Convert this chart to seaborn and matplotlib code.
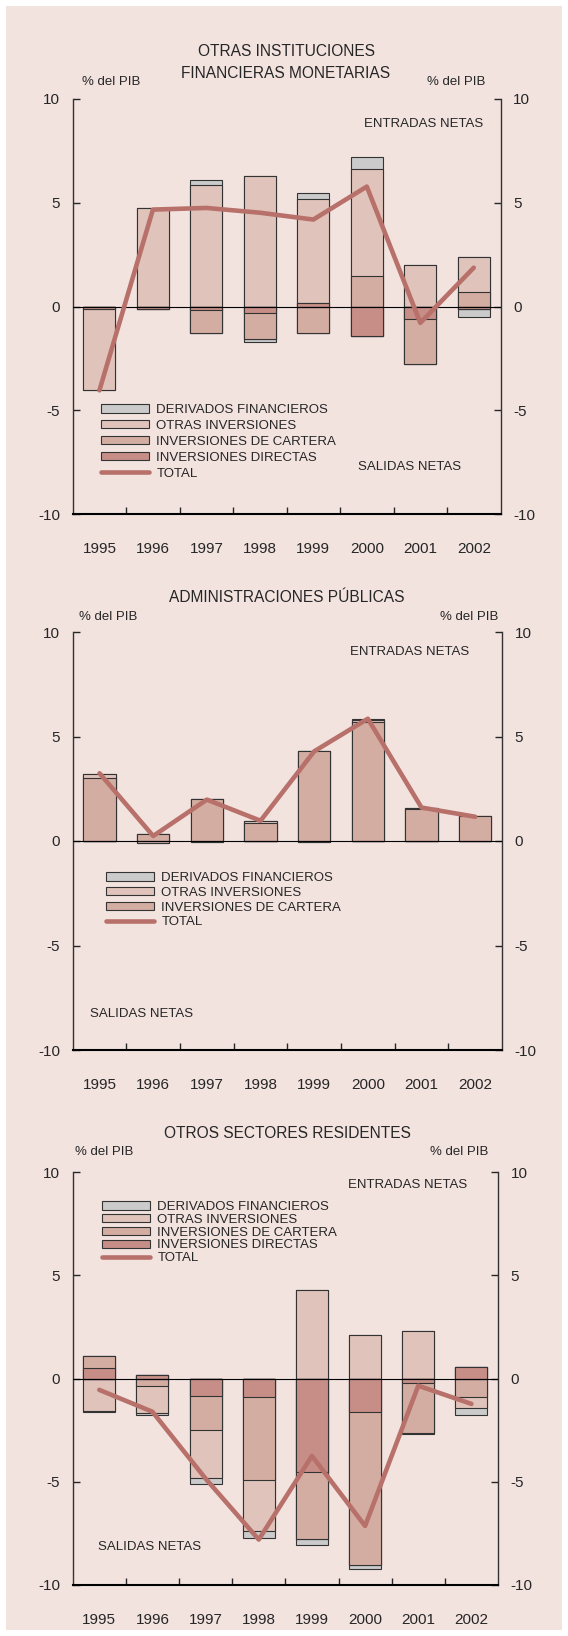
import matplotlib
matplotlib.use("Agg")
import matplotlib.pyplot as plt
from matplotlib.lines import Line2D
from matplotlib.patches import Patch, Rectangle
import numpy as np
import seaborn as sns

YEARS = ["1995", "1996", "1997", "1998", "1999", "2000", "2001", "2002"]

# Otras instituciones financieras monetarias (% del PIB)
OIFM_DIRECTAS = [-0.13, -0.10, -0.19, -0.29, 0.18, -1.42, -0.61, -0.11]
OIFM_CARTERA = [0.00, 0.00, -1.11, -1.30, -1.26, 1.45, -2.16, 0.69]
OIFM_OTRAS = [-3.88, 4.75, 5.85, 6.28, 4.99, 5.20, 2.00, 1.69]
OIFM_DERIVADOS = [0.00, 0.00, 0.24, -0.14, 0.31, 0.55, 0.00, -0.40]
OIFM_TOTAL = [-4.04, 4.67, 4.75, 4.52, 4.19, 5.78, -0.79, 1.87]

# Administraciones publicas
AAPP_CARTERA = [3.00, 0.33, 2.00, 0.85, 4.29, 5.69, 1.53, 1.18]
AAPP_OTRAS = [0.21, -0.10, -0.03, 0.11, -0.04, 0.10, 0.05, 0.00]
AAPP_DERIVADOS = [0.00, 0.00, 0.00, 0.00, 0.00, 0.05, 0.00, 0.00]
AAPP_TOTAL = [3.24, 0.24, 1.98, 0.97, 4.29, 5.85, 1.60, 1.16]

# Otros sectores residentes
OSR_DIRECTAS = [0.52, 0.15, -0.87, -0.92, -4.52, -1.63, -0.23, 0.55]
OSR_CARTERA = [0.58, -0.34, -1.60, -3.98, -3.24, -7.38, -2.42, -0.92]
OSR_OTRAS = [-1.55, -1.32, -2.37, -2.47, 4.27, 2.11, 2.32, -0.52]
OSR_DERIVADOS = [-0.08, -0.10, -0.26, -0.35, -0.29, -0.23, -0.06, -0.32]
OSR_TOTAL = [-0.55, -1.61, -4.85, -7.80, -3.75, -7.14, -0.35, -1.23]

BG = "#f2e3df"
C_DERIV = "#cbcbcb"
C_OTRAS = "#e0c3ba"
C_CARTERA = "#d4ada2"
C_DIRECTAS = "#c68e86"
C_TOTAL = "#b8716a"
EDGE = "#333333"

W, H = 568, 1636

sns.set_style("ticks")
plt.rcParams["font.family"] = ["Liberation Sans", "DejaVu Sans"]
plt.rcParams["axes.unicode_minus"] = False


def fx(px):
    return px / W


def fy(py):
    return 1 - py / H


def draw_panel(ax, comps, total):
    """comps: list of (values, colour) ordered from the zero line outward."""
    vals = np.array([c[0] for c in comps], dtype=float)
    pos = np.cumsum(np.clip(vals, 0, None), axis=0)
    neg = np.cumsum(np.clip(vals, None, 0), axis=0)
    # draw outermost cumulative first, inner ones on top -> stacked look
    for k in range(len(comps) - 1, -1, -1):
        for cum in (pos[k], neg[k]):
            sns.barplot(x=YEARS, y=cum, color=comps[k][1], saturation=1,
                        width=0.6, edgecolor=EDGE, linewidth=0.8,
                        errorbar=None, ax=ax, zorder=2)
    ax.axhline(0, color="black", lw=0.8, zorder=3)
    sns.lineplot(x=np.arange(len(YEARS)), y=total, color=C_TOTAL, lw=3.3,
                 ax=ax, zorder=4)

    ax.set_facecolor("none")
    ax.set_xlim(-0.5, 7.5)
    ax.set_ylim(-10, 10)
    ax.set_yticks([-10, -5, 0, 5, 10])
    ax.set_yticklabels(["-10", "-5", "0", "5", "10"])
    ax.tick_params(axis="y", direction="in", length=5, width=1,
                   left=True, right=True, labelleft=True, labelright=True,
                   pad=9, labelsize=11)
    ax.set_xticks(range(len(YEARS)))
    ax.set_xticklabels(YEARS)
    ax.tick_params(axis="x", which="major", length=0, pad=20, labelsize=11)
    ax.set_xticks(np.arange(0.5, len(YEARS) - 1), minor=True)
    ax.tick_params(axis="x", which="minor", direction="in", length=5, width=1)
    ax.set_xlabel("")
    ax.set_ylabel("")
    ax.spines["top"].set_visible(False)
    for s in ("left", "right"):
        ax.spines[s].set_linewidth(1.0)
        ax.spines[s].set_color("#333333")
    ax.spines["bottom"].set_linewidth(1.5)
    ax.spines["bottom"].set_color("black")


def add_legend(ax, fig, items, left, top, spacing):
    handles = []
    for label, colour in items:
        if label == "TOTAL":
            handles.append(Line2D([], [], color=colour, lw=3.3,
                                  solid_capstyle="round", label=label))
        else:
            handles.append(Patch(facecolor=colour, edgecolor=EDGE, lw=0.8,
                                 label=label))
    ax.legend(handles=handles, loc="upper left",
              bbox_to_anchor=(fx(left), fy(top)), bbox_transform=fig.transFigure,
              frameon=False, fontsize=9.5, borderpad=0, borderaxespad=0,
              handlelength=3.6, handleheight=0.6, handletextpad=0.6,
              labelspacing=spacing)


fig = plt.figure(figsize=(W / 100, H / 100), dpi=100, facecolor="white")
fig.patches.append(Rectangle((fx(6), fy(1630)), fx(556), fy(6) - fy(1630),
                             transform=fig.transFigure, facecolor=BG,
                             edgecolor="none", zorder=-10))

LEG4 = [("DERIVADOS FINANCIEROS", C_DERIV), ("OTRAS INVERSIONES", C_OTRAS),
        ("INVERSIONES DE CARTERA", C_CARTERA),
        ("INVERSIONES DIRECTAS", C_DIRECTAS), ("TOTAL", C_TOTAL)]
LEG3 = [("DERIVADOS FINANCIEROS", C_DERIV), ("OTRAS INVERSIONES", C_OTRAS),
        ("INVERSIONES DE CARTERA", C_CARTERA), ("TOTAL", C_TOTAL)]

# panel 1
ax1 = fig.add_axes([fx(72.7), fy(514), (500.5 - 72.7) / W, (514 - 99) / H])
draw_panel(ax1, [(OIFM_DIRECTAS, C_DIRECTAS), (OIFM_CARTERA, C_CARTERA),
                 (OIFM_OTRAS, C_OTRAS), (OIFM_DERIVADOS, C_DERIV)], OIFM_TOTAL)
add_legend(ax1, fig, LEG4, 101, 404, 0.3)
fig.text(fx(286), fy(51.7), "OTRAS INSTITUCIONES", ha="center", va="center", fontsize=11.2)
fig.text(fx(286), fy(73), "FINANCIERAS MONETARIAS", ha="center", va="center", fontsize=11.2)
fig.text(fx(82), fy(81.7), "% del PIB", ha="left", va="center", fontsize=9.5)
fig.text(fx(427), fy(81.7), "% del PIB", ha="left", va="center", fontsize=9.5)
fig.text(fx(483), fy(124), "ENTRADAS NETAS", ha="right", va="center", fontsize=9.5)
fig.text(fx(358), fy(467), "SALIDAS NETAS", ha="left", va="center", fontsize=9.5)

# panel 2
ax2 = fig.add_axes([fx(72.7), fy(1050), (502 - 72.7) / W, (1050 - 632) / H])
draw_panel(ax2, [(AAPP_CARTERA, C_CARTERA), (AAPP_OTRAS, C_OTRAS),
                 (AAPP_DERIVADOS, C_DERIV)], AAPP_TOTAL)
add_legend(ax2, fig, LEG3, 106, 872, 0.21)
fig.text(fx(287), fy(597), "ADMINISTRACIONES PÚBLICAS", ha="center", va="center", fontsize=11.2)
fig.text(fx(79), fy(617), "% del PIB", ha="left", va="center", fontsize=9.5)
fig.text(fx(440), fy(617), "% del PIB", ha="left", va="center", fontsize=9.5)
fig.text(fx(469), fy(652), "ENTRADAS NETAS", ha="right", va="center", fontsize=9.5)
fig.text(fx(90), fy(1014), "SALIDAS NETAS", ha="left", va="center", fontsize=9.5)

# panel 3
ax3 = fig.add_axes([fx(72.7), fy(1585), (498 - 72.7) / W, (1585 - 1172) / H])
draw_panel(ax3, [(OSR_DIRECTAS, C_DIRECTAS), (OSR_CARTERA, C_CARTERA),
                 (OSR_OTRAS, C_OTRAS), (OSR_DERIVADOS, C_DERIV)], OSR_TOTAL)
add_legend(ax3, fig, LEG4, 102, 1201, 0.06)
fig.text(fx(287), fy(1133), "OTROS SECTORES RESIDENTES", ha="center", va="center", fontsize=11.2)
fig.text(fx(75), fy(1152), "% del PIB", ha="left", va="center", fontsize=9.5)
fig.text(fx(430), fy(1152), "% del PIB", ha="left", va="center", fontsize=9.5)
fig.text(fx(467), fy(1185), "ENTRADAS NETAS", ha="right", va="center", fontsize=9.5)
fig.text(fx(98), fy(1547), "SALIDAS NETAS", ha="left", va="center", fontsize=9.5)

fig.savefig("out.png", dpi=100, facecolor=fig.get_facecolor())
